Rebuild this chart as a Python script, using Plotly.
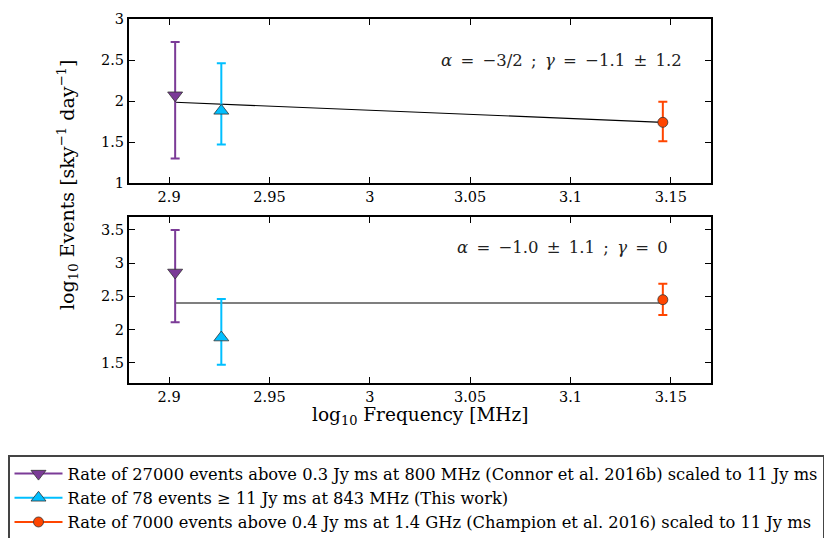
import plotly.graph_objects as go

# ---- data ----
log_freq = [2.903, 2.926, 3.146]
labels = [
    "Rate of 27000 events above 0.3 Jy ms at 800 MHz (Connor et al. 2016b) scaled to 11 Jy ms",
    "Rate of 78 events \u2265 11 Jy ms at 843 MHz (This work)",
    "Rate of 7000 events above 0.4 Jy ms at 1.4 GHz (Champion et al. 2016) scaled to 11 Jy ms",
]
colors = ["#7b3b97", "#00bfff", "#ff4500"]
symbols = ["triangle-down", "triangle-up", "circle"]
msizes = [13, 13, 10]

rate_top = [2.07, 1.88, 1.74]
err_up_top = [0.65, 0.58, 0.25]
err_dn_top = [0.77, 0.41, 0.23]

rate_bot = [2.86, 1.88, 2.45]
err_up_bot = [0.64, 0.58, 0.24]
err_dn_bot = [0.75, 0.41, 0.23]

fit_x = [2.903, 3.146]
fit_top = [1.985, 1.74]
fit_bot = [2.40, 2.40]

x_ticks = [2.9, 2.95, 3.0, 3.05, 3.1, 3.15]
x_ticktext = ["2.9", "2.95", "3", "3.05", "3.1", "3.15"]
y_ticks_top = [1, 1.5, 2, 2.5, 3]
y_ticktext_top = ["1", "1.5", "2", "2.5", "3"]
y_ticks_bot = [1.5, 2, 2.5, 3, 3.5]
y_ticktext_bot = ["1.5", "2", "2.5", "3", "3.5"]

SP = "\u2002"
ann_top = f"<i>α</i>{SP}={SP}−3/2{SP};{SP}<i>γ</i>{SP}={SP}−1.1{SP}±{SP}1.2"
ann_bot = f"<i>α</i>{SP}={SP}−1.0{SP}±{SP}1.1{SP};{SP}<i>γ</i>{SP}={SP}0"

FONT = "DejaVu Serif"
W, H = 825, 570  # figure is taller than the 538px window so the legend box runs off the bottom


def px(x):
    return x / W


def py(y):
    return 1 - y / H


fig = go.Figure()

# fit lines
fig.add_trace(go.Scatter(x=fit_x, y=fit_top, mode="lines", line=dict(color="black", width=1.2),
                         xaxis="x", yaxis="y", showlegend=False, hoverinfo="skip"))
fig.add_trace(go.Scatter(x=fit_x, y=fit_bot, mode="lines", line=dict(color="black", width=1.2),
                         xaxis="x2", yaxis="y2", showlegend=False, hoverinfo="skip"))

for i in range(3):
    for (rate, eu, ed, xa, ya) in [(rate_top, err_up_top, err_dn_top, "x", "y"),
                                   (rate_bot, err_up_bot, err_dn_bot, "x2", "y2")]:
        fig.add_trace(go.Scatter(
            x=[log_freq[i]], y=[rate[i]], mode="markers",
            marker=dict(symbol=symbols[i], size=msizes[i], color=colors[i],
                        line=dict(color="#333333", width=0.8)),
            error_y=dict(type="data", symmetric=False, array=[eu[i]], arrayminus=[ed[i]],
                         color=colors[i], thickness=2, width=4.5),
            xaxis=xa, yaxis=ya, showlegend=False))
    # legend entry
    fig.add_trace(go.Scatter(
        x=[None], y=[None], mode="lines+markers", name=labels[i],
        marker=dict(symbol=symbols[i], size=msizes[i], color=colors[i],
                    line=dict(color="#333333", width=0.8)),
        line=dict(color=colors[i], width=2),
        xaxis="x", yaxis="y", showlegend=True))

axis_common = dict(showline=True, linecolor="black", linewidth=2, mirror="ticks",
                   ticks="inside", ticklen=6, tickwidth=1, tickcolor="black",
                   showgrid=False, zeroline=False,
                   tickfont=dict(family=FONT, size=14.5, color="black"))

xd = [px(129), px(711)]
fig.update_layout(
    width=W, height=H,
    margin=dict(l=0, r=0, t=0, b=0, autoexpand=False),
    paper_bgcolor="white", plot_bgcolor="white",
    font=dict(family=FONT, color="black"),
    xaxis=dict(domain=xd, range=[2.88, 3.17], tickvals=x_ticks, ticktext=x_ticktext,
               anchor="y", **axis_common),
    yaxis=dict(domain=[py(183), py(19)], range=[1, 3], tickvals=y_ticks_top,
               ticktext=y_ticktext_top, anchor="x", **axis_common),
    xaxis2=dict(domain=xd, range=[2.88, 3.17], tickvals=x_ticks, ticktext=x_ticktext,
                anchor="y2", **axis_common),
    yaxis2=dict(domain=[py(382.7), py(216.7)], range=[1.2, 3.7], tickvals=y_ticks_bot,
                ticktext=y_ticktext_bot, anchor="x2", **axis_common),
    legend=dict(x=px(8), y=py(455), xanchor="left", yanchor="top",
                bordercolor="#444444", borderwidth=1.5, bgcolor="white",
                font=dict(family=FONT, size=16.3, color="black"),
                itemwidth=48),
    annotations=[
        dict(text=ann_top, x=px(561), y=py(60), xref="paper", yref="paper",
             xanchor="center", yanchor="middle",
             showarrow=False, font=dict(family=FONT, size=16.5, color="#222222")),
        dict(text=ann_bot, x=px(562), y=py(247), xref="paper", yref="paper",
             xanchor="center", yanchor="middle",
             showarrow=False, font=dict(family=FONT, size=16.5, color="#222222")),
        dict(text="log<sub>10</sub> Events [sky<sup>−1</sup> day<sup>−1</sup>]",
             x=px(67), y=py(185), xref="paper", yref="paper", textangle=-90,
             xanchor="center", yanchor="middle",
             showarrow=False, font=dict(family=FONT, size=19, color="black")),
        dict(text="log<sub>10</sub> Frequency [MHz]",
             x=px(420), y=py(416), xref="paper", yref="paper",
             xanchor="center", yanchor="middle",
             showarrow=False, font=dict(family=FONT, size=18.5, color="black")),
    ],
)

fig.write_html("out.html", config={"displayModeBar": False},
               post_script="document.body.style.margin='0';document.body.style.overflow='hidden';"
                           "document.documentElement.style.overflow='hidden';")
